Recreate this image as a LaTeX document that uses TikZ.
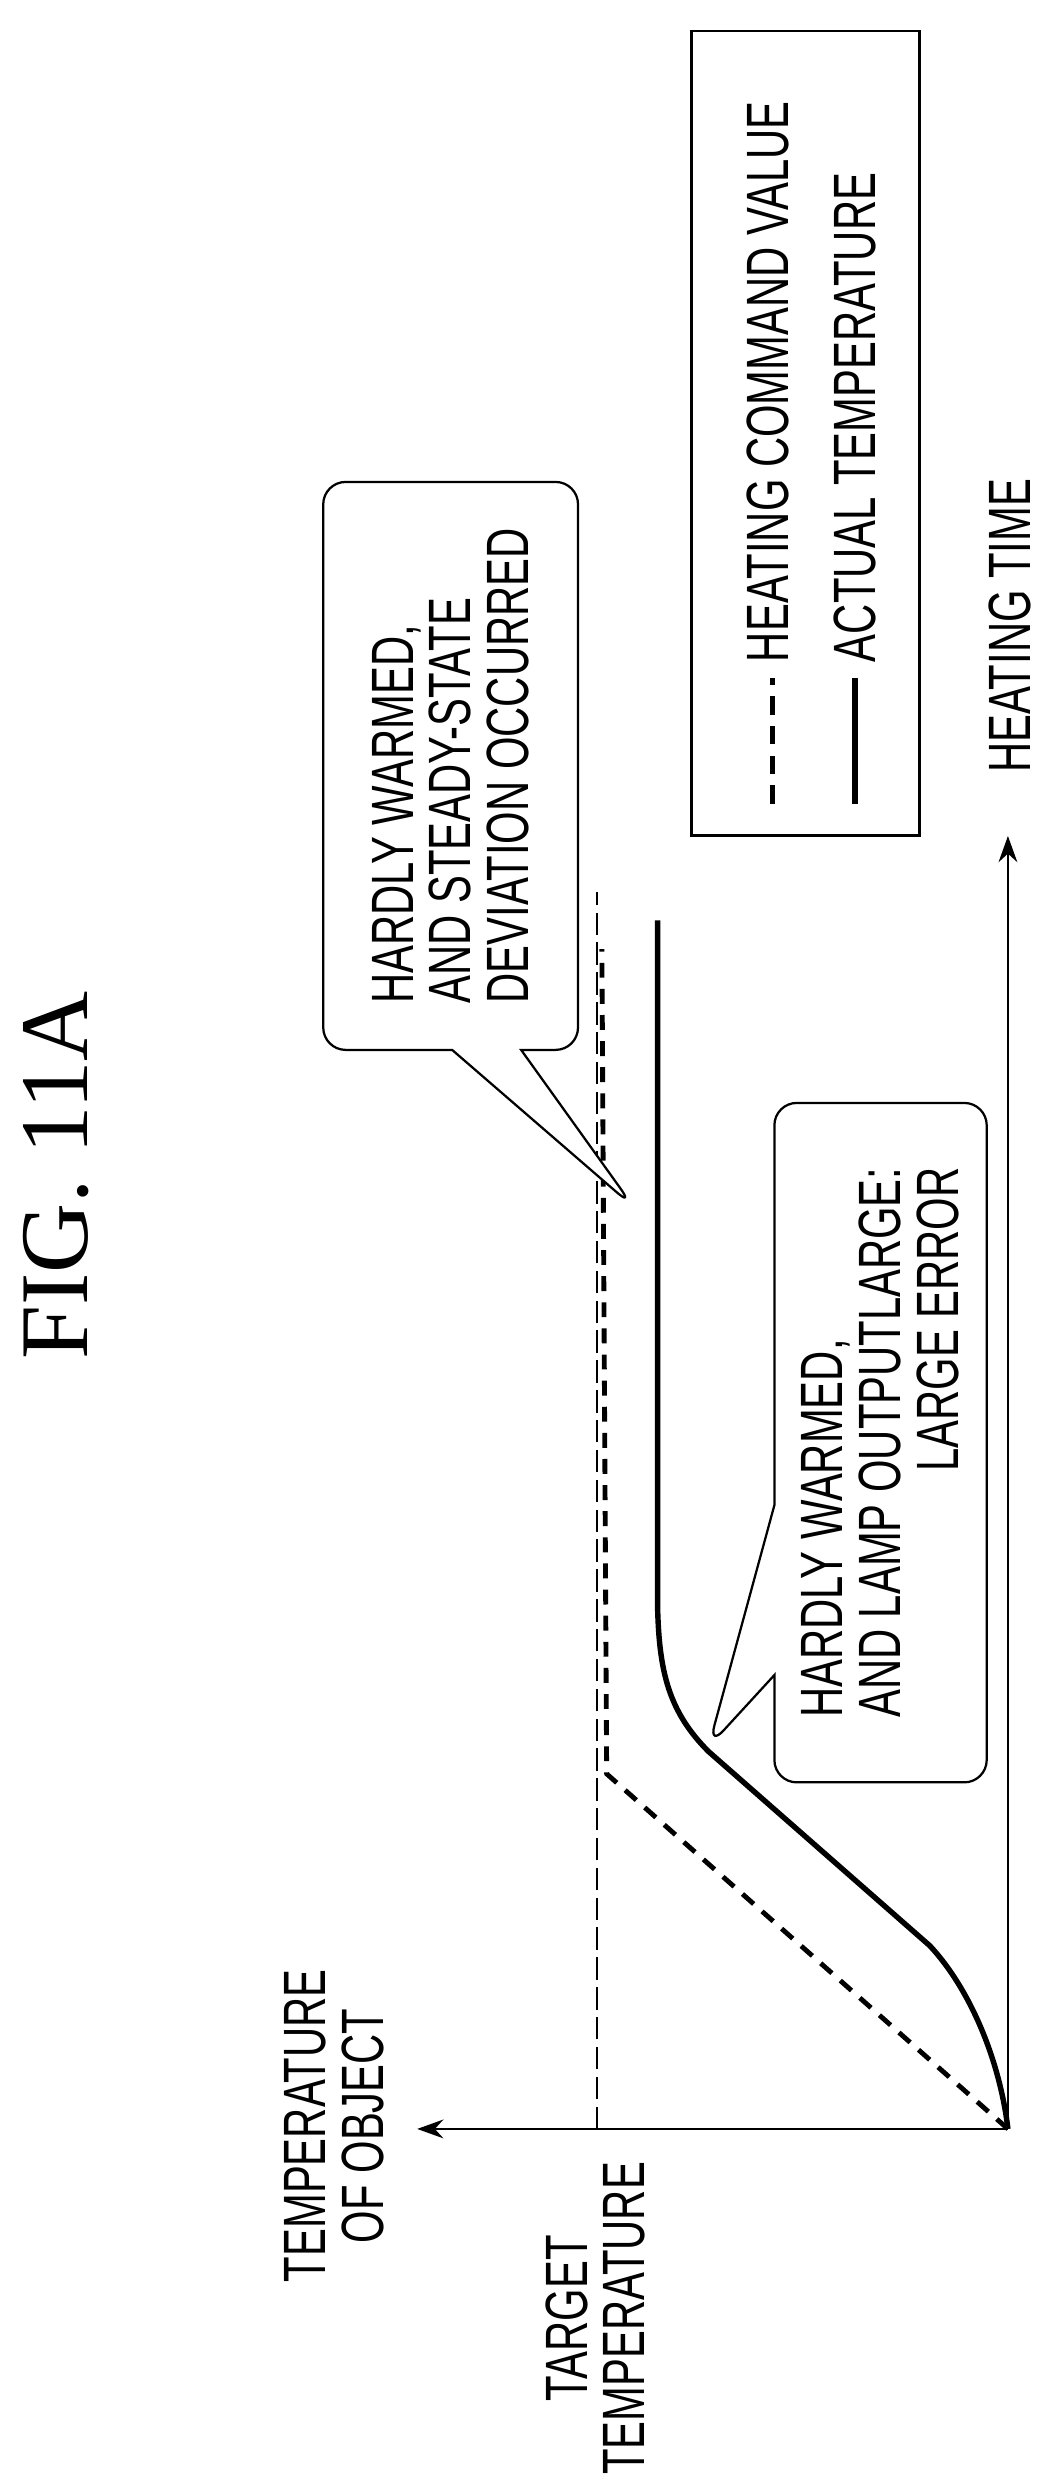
\documentclass[tikz,border=0pt]{standalone}
\usepackage{fontspec}
\setmainfont{Liberation Serif}
\newfontfamily\lblfont[FakeStretch=0.7]{Liberation Sans}
\usetikzlibrary{positioning,shapes.callouts,arrows.meta}

\begin{document}
\begin{tikzpicture}[x=0.03cm,y=-0.03cm,
  lbl/.style={font=\lblfont\fontsize{32}{31}\selectfont,rotate=90,align=center,inner sep=0pt},
  bubble/.style={rectangle callout,draw,line width=1.2pt,rounded corners=12pt,rotate=90,
    font=\lblfont\fontsize{32}{31}\selectfont,align=left,fill=white},
  axis/.style={line width=1.5pt,-{Stealth[length=14pt,width=10pt]}},
  cmd/.style={line width=2.6pt,dash pattern=on 8pt off 6pt},
  act/.style={line width=2.9pt}]
\useasboundingbox (0,0) rectangle (660,1560);

% title
\node[rotate=90,font=\fontsize{52}{54}\selectfont] (title) at (35,738) {FIG. 11A};

% axes
\coordinate (o) at (633,1337);
\coordinate (ttop) at (262,1337);
\coordinate (xend) at (633,525);
\draw[axis] (o) -- (ttop);
\draw[axis] (o) -- (xend);
\node[lbl] (tlabel) at (210,1335) {TEMPERATURE\\OF OBJECT};
\node[lbl] (xlabel) at (634,393) {HEATING TIME};
\node[lbl] (target) at (374,1456) {TARGET\\TEMPERATURE};

% target temperature
\coordinate (tg0) at (375,1337);
\coordinate (tg1) at (375,560);
\draw[line width=1pt,dash pattern=on 12pt off 4pt] (tg0) -- (tg1);

% heating command value
\coordinate (c1) at (381,1114);
\coordinate (c2) at (378,596);
\draw[cmd] (o) -- (c1) -- (c2);

% actual temperature
\coordinate (a1) at (413,1010);
\coordinate (a2) at (413,578);
\draw[act] (o) .. controls (628,1295) and (610,1250) .. (584,1222)
  -- (445,1100) .. controls (420,1075) and (414,1050) .. (a1) -- (a2);

% callouts
\node[bubble,minimum width=10.7cm,minimum height=4.8cm,callout pointer width=1.3cm,
  callout absolute pointer={(398,758)}] (note1) at (283,481)
  {HARDLY WARMED,\\AND STEADY-STATE\\DEVIATION OCCURRED};
\node[bubble,minimum width=12.8cm,minimum height=4.0cm,callout pointer width=3.2cm,
  callout absolute pointer={(445,1097)}] (note2) at (553,906)
  {HARDLY WARMED,\\AND LAMP OUTPUTLARGE:\\\hfill LARGE ERROR};

% legend
\node[draw,line width=1.5pt,minimum width=4.3cm,minimum height=15.15cm] (legend) at (506,272) {};
\coordinate (l1a) at (485,505);
\coordinate (l1b) at (485,426);
\coordinate (l2a) at (537,505);
\coordinate (l2b) at (537,426);
\draw[cmd,line width=2.8pt,dash pattern=on 10pt off 6pt] (l1a) -- (l1b);
\draw[act] (l2a) -- (l2b);
\node[lbl,anchor=west] (lg1) at (482,416) {HEATING COMMAND VALUE};
\node[lbl,anchor=west] (lg2) at (537,416) {ACTUAL TEMPERATURE};
\end{tikzpicture}
\end{document}
